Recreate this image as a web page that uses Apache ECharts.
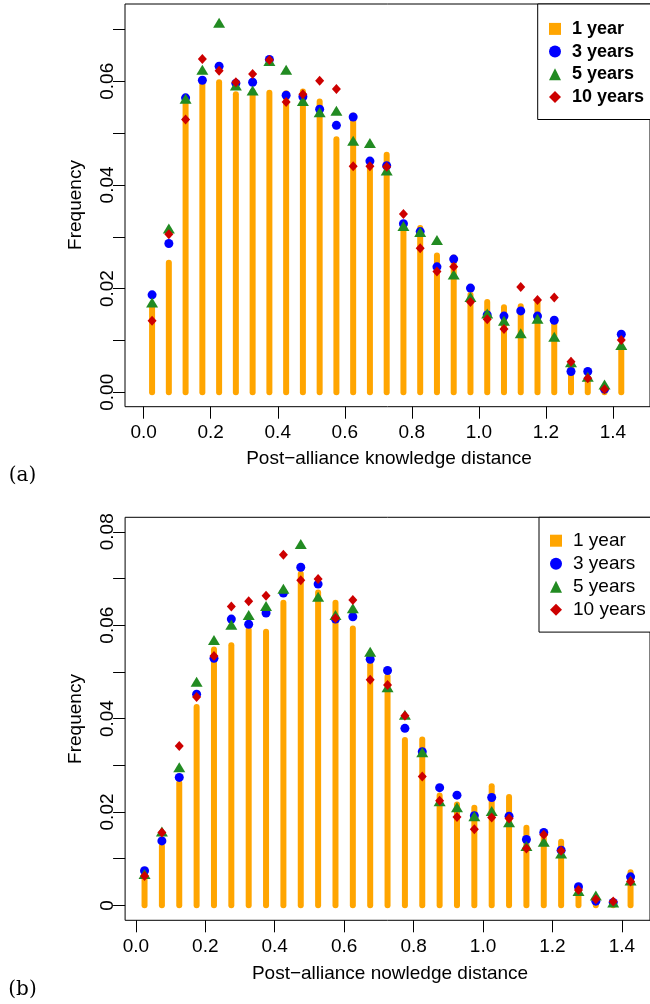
<!DOCTYPE html>
<html>
<head>
<meta charset="utf-8">
<script src="https://cdn.jsdelivr.net/npm/echarts@6/dist/echarts.min.js"></script>
<style>
html,body{margin:0;padding:0;background:#fff;}
#chart{width:650px;height:1004px;}
</style>
</head>
<body>
<div id="chart"></div>
<script>
// ---- data ----
const distances = [0.025,0.075,0.125,0.175,0.225,0.275,0.325,0.375,0.425,0.475,0.525,0.575,0.625,0.675,0.725,0.775,0.825,0.875,0.925,0.975,1.025,1.075,1.125,1.175,1.225,1.275,1.325,1.375,1.425];
const seriesNames = ['1 year','3 years','5 years','10 years'];

// panel (a): Post-alliance knowledge distance
const a_year1  = [0.0168,0.0250,0.0558,0.0593,0.0598,0.0575,0.0580,0.0578,0.0577,0.0580,0.0561,0.0488,0.0534,0.0438,0.0458,0.0318,0.0317,0.0264,0.0260,0.0188,0.0174,0.0164,0.0166,0.0173,0.0140,0.0055,0.0027,0.0004,0.0089];
const a_year3  = [0.0188,0.0287,0.0568,0.0602,0.0629,0.0596,0.0598,0.0642,0.0573,0.0570,0.0546,0.0515,0.0531,0.0446,0.0437,0.0325,0.0310,0.0242,0.0257,0.0201,0.0149,0.0147,0.0157,0.0147,0.0139,0.0040,0.0040,0.0006,0.0112];
const a_year5  = [0.0173,0.0316,0.0566,0.0622,0.0713,0.0592,0.0582,0.0639,0.0622,0.0562,0.0540,0.0543,0.0485,0.0481,0.0428,0.0321,0.0309,0.0294,0.0227,0.0184,0.0152,0.0138,0.0114,0.0142,0.0107,0.0058,0.0030,0.0015,0.0091];
const a_year10 = [0.0138,0.0305,0.0526,0.0643,0.0620,0.0598,0.0614,0.0641,0.0560,0.0575,0.0601,0.0585,0.0436,0.0436,0.0435,0.0344,0.0278,0.0233,0.0242,0.0174,0.0141,0.0122,0.0203,0.0178,0.0183,0.0059,0.0027,0.0006,0.0101];

// panel (b): Post-alliance nowledge distance
const b_year1  = [0.0060,0.0127,0.0262,0.0425,0.0548,0.0557,0.0590,0.0586,0.0648,0.0710,0.0670,0.0648,0.0593,0.0515,0.0490,0.0354,0.0355,0.0235,0.0216,0.0209,0.0255,0.0232,0.0166,0.0155,0.0136,0.0028,0.0008,0.0004,0.0071];
const b_year3  = [0.0074,0.0138,0.0274,0.0452,0.0529,0.0613,0.0602,0.0626,0.0669,0.0724,0.0688,0.0613,0.0618,0.0527,0.0503,0.0379,0.0329,0.0252,0.0236,0.0192,0.0231,0.0191,0.0141,0.0156,0.0118,0.0040,0.0009,0.0006,0.0061];
const b_year5  = [0.0067,0.0158,0.0296,0.0479,0.0568,0.0601,0.0622,0.0641,0.0678,0.0774,0.0661,0.0622,0.0636,0.0543,0.0467,0.0408,0.0328,0.0223,0.0210,0.0191,0.0202,0.0178,0.0127,0.0136,0.0111,0.0031,0.0021,0.0006,0.0053];
const b_year10 = [0.0063,0.0156,0.0341,0.0446,0.0534,0.0640,0.0651,0.0663,0.0751,0.0696,0.0699,0.0615,0.0654,0.0483,0.0472,0.0406,0.0276,0.0224,0.0189,0.0163,0.0188,0.0186,0.0122,0.0151,0.0117,0.0033,0.0013,0.0008,0.0051];

// tick values
const xTicks = [0,0.2,0.4,0.6,0.8,1.0,1.2,1.4];
const a_yTicks = [0,0.01,0.02,0.03,0.04,0.05,0.06,0.07];
const a_yLabels = [0,0.02,0.04,0.06];
const b_yTicks = [0,0.01,0.02,0.03,0.04,0.05,0.06,0.07,0.08];
const b_yLabels = [0,0.02,0.04,0.06,0.08];

// ---- styles ----
const FONT = 'Liberation Sans';
const C_ORANGE = '#FFA500', C_BLUE = '#0000FF', C_GREEN = '#228B22', C_RED = '#CD0000';

function pairs(vals){ return distances.map((d,i)=>[d, vals[i]]); }

function barSeries(vals, gi){
  return {
    type:'custom', name:'1 year', xAxisIndex:gi, yAxisIndex:gi,
    itemStyle:{color:C_ORANGE},
    encode:{x:0,y:1},
    data:pairs(vals),
    renderItem:function(params, api){
      const p0 = api.coord([api.value(0), 0]);
      const p1 = api.coord([api.value(0), api.value(1)]);
      return {type:'line', shape:{x1:p0[0],y1:p0[1],x2:p1[0],y2:p1[1]},
              style:{stroke:C_ORANGE, lineWidth:6, lineCap:'round'}};
    }
  };
}
function pointSeries(name, vals, gi, symbol, size, color){
  return {type:'scatter', name:name, xAxisIndex:gi, yAxisIndex:gi, data:pairs(vals),
          symbol:symbol, symbolSize:size, itemStyle:{color:color, opacity:1},
          emphasis:{disabled:true}};
}

function xAxis(gi, min, max){
  return {type:'value', gridIndex:gi, min:min, max:max, position:'bottom',
    axisLine:{show:false, onZero:false}, splitLine:{show:false},
    axisTick:{show:true, length:12, customValues:xTicks, lineStyle:{color:'#000',width:1}},
    axisLabel:{customValues:xTicks, margin:17, fontSize:19, fontFamily:FONT, color:'#000',
      formatter:v=>v.toFixed(1)}};
}
function yAxis(gi, min, max, ticks, labels, fmt){
  return {type:'value', gridIndex:gi, min:min, max:max, position:'left',
    axisLine:{show:false, onZero:false}, splitLine:{show:false},
    axisTick:{show:true, length:12, customValues:ticks, lineStyle:{color:'#000',width:1}},
    axisLabel:{customValues:labels, rotate:90, margin:8, fontSize:19, fontFamily:FONT, color:'#000',
      formatter:fmt}};
}
function legend(left, top, pad, gap, weight, size){
  return {orient:'vertical', left:left, top:top, padding:pad, itemGap:gap,
    itemWidth:12, itemHeight:12, borderColor:'#000', borderWidth:1, backgroundColor:'#fff',
    selectedMode:false,
    textStyle:{fontSize:size, fontWeight:weight, fontFamily:FONT, color:'#000', padding:[0,0,0,6]},
    data:[{name:'1 year', icon:'rect'},{name:'3 years', icon:'circle'},
          {name:'5 years', icon:'triangle'},{name:'10 years', icon:'diamond'}]};
}
function txt(x,y,text,font,rot){
  return {type:'text', x:x, y:y, rotation:rot||0,
    style:{text:text, font:font, fill:'#000', textAlign:'center', textVerticalAlign:'middle'}};
}

const option = {
  animation:false,
  backgroundColor:'#fff',
  grid:[
    {left:125, top:4, width:542, height:402.7, show:true, borderColor:'#000', borderWidth:1, backgroundColor:'transparent'},
    {left:125.1, top:517.3, width:530.3, height:403, show:true, borderColor:'#000', borderWidth:1, backgroundColor:'transparent'}
  ],
  xAxis:[ xAxis(0, -0.0558, 1.5107), xAxis(1, -0.031, 1.481) ],
  yAxis:[
    yAxis(0, -0.00278, 0.0749, a_yTicks, a_yLabels, v=>v.toFixed(2)),
    yAxis(1, -0.0032, 0.0831, b_yTicks, b_yLabels, v=>(v===0?'0':v.toFixed(2)))
  ],
  legend:[ legend(537.7, 4, [15.9,20,13.5,11.3], 4.7, 'bold', 18), legend(539, 517.3, [13.9,20,12.9,11], 4, 'normal', 19) ],
  series:[
    barSeries(a_year1,0),
    pointSeries('3 years', a_year3, 0, 'circle', 9, C_BLUE),
    pointSeries('5 years', a_year5, 0, 'triangle', [12,10], C_GREEN),
    pointSeries('10 years', a_year10, 0, 'diamond', [9,10], C_RED),
    barSeries(b_year1,1),
    pointSeries('3 years', b_year3, 1, 'circle', 9, C_BLUE),
    pointSeries('5 years', b_year5, 1, 'triangle', [12,10], C_GREEN),
    pointSeries('10 years', b_year10, 1, 'diamond', [9,10], C_RED)
  ],
  graphic:[
    txt(76, 205, 'Frequency', '19px "Liberation Sans"', Math.PI/2),
    txt(76, 719, 'Frequency', '19px "Liberation Sans"', Math.PI/2),
    txt(389, 458.5, 'Post\u2212alliance knowledge distance', '19px "Liberation Sans"'),
    txt(390, 974, 'Post\u2212alliance nowledge distance', '19px "Liberation Sans"'),
    txt(22.5, 476, '(a)', '20px "DejaVu Serif"'),
    txt(22.5, 990, '(b)', '20px "DejaVu Serif"')
  ]
};
const chart = echarts.init(document.getElementById('chart'), null, {renderer:'canvas', width:650, height:1004});
chart.setOption(option);
</script>
</body>
</html>
